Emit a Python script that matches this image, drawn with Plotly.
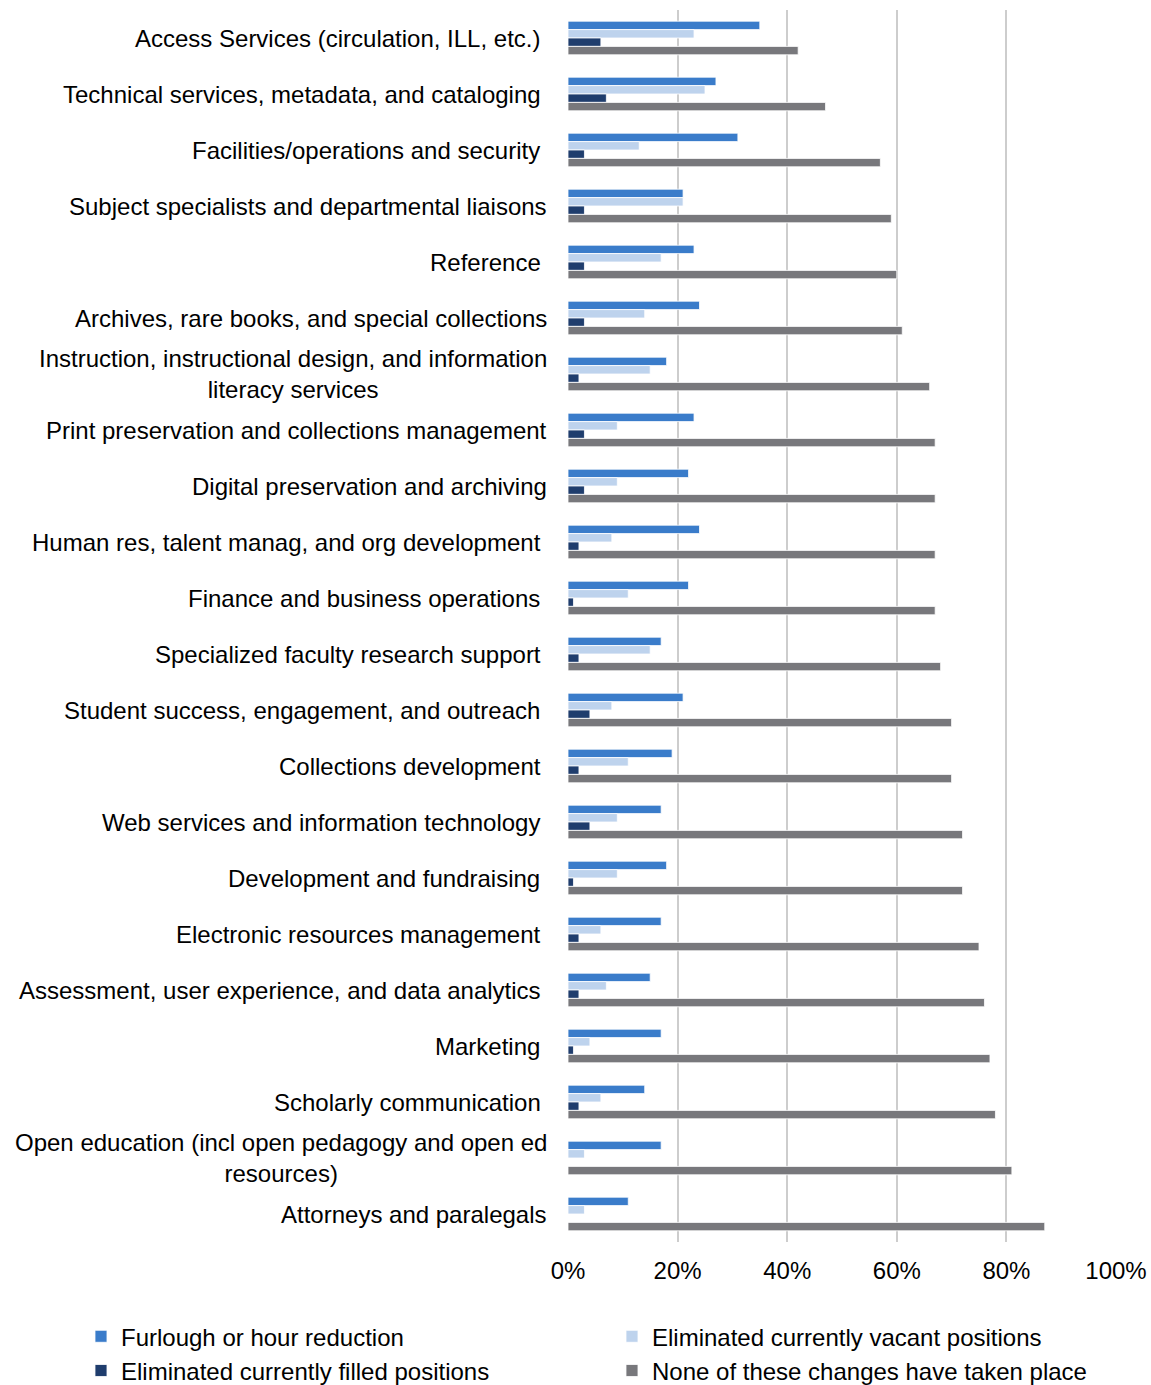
import plotly.graph_objects as go

# Library functional areas (top to bottom); a trailing space is kept as drawn
categories = [
    "Access Services (circulation, ILL, etc.) ",
    "Technical services, metadata, and cataloging ",
    "Facilities/operations and security ",
    "Subject specialists and departmental liaisons",
    "Reference ",
    "Archives, rare books, and special collections",
    "Instruction, instructional design, and information<br>literacy services",
    "Print preservation and collections management",
    "Digital preservation and archiving",
    "Human res, talent manag, and org development ",
    "Finance and business operations ",
    "Specialized faculty research support ",
    "Student success, engagement, and outreach ",
    "Collections development ",
    "Web services and information technology ",
    "Development and fundraising ",
    "Electronic resources management ",
    "Assessment, user experience, and data analytics ",
    "Marketing ",
    "Scholarly communication ",
    "Open education (incl open pedagogy and open ed<br>resources)",
    "Attorneys and paralegals",
]

# Share of respondents (%) per change type
furlough = [35, 27, 31, 21, 23, 24, 18, 23, 22, 24, 22, 17, 21, 19, 17, 18, 17, 15, 17, 14, 17, 11]
vacant = [23, 25, 13, 21, 17, 14, 15, 9, 9, 8, 11, 15, 8, 11, 9, 9, 6, 7, 4, 6, 3, 3]
filled = [6, 7, 3, 3, 3, 3, 2, 3, 3, 2, 1, 2, 4, 2, 4, 1, 2, 2, 1, 2, 0, 0]
none_changes = [42, 47, 57, 59, 60, 61, 66, 67, 67, 67, 67, 68, 70, 70, 72, 72, 75, 76, 77, 78, 81, 87]

series = [
    ("Furlough or hour reduction", furlough, "#3a7cca"),
    ("Eliminated currently vacant positions", vacant, "#bed3ed"),
    ("Eliminated currently filled positions", filled, "#1f3d6d"),
    ("None of these changes have taken place", none_changes, "#78787c"),
]

ticks = [0, 20, 40, 60, 80, 100]
tick_text = [f"{t}%" for t in ticks]

FONT = "Liberation Sans, Arial, sans-serif"
FS = 24

fig = go.Figure()
for name, vals, color in series:
    fig.add_trace(go.Bar(
        y=list(range(len(categories))),
        x=vals,
        name=name,
        orientation="h",
        marker=dict(color=color, line=dict(color="white", width=0.8)),
    ))

# Category labels, centred line by line and right-aligned against the axis
for i, label in enumerate(categories):
    text = label.rstrip(" ") + ("\u00a0" if label.endswith(" ") else "")
    fig.add_annotation(
        x=0, xref="paper", y=i, yref="y",
        text=text,
        showarrow=False, xanchor="right", yanchor="middle", align="center",
        xshift=-19, font=dict(family=FONT, size=FS, color="#000000"),
    )

fig.update_layout(
    width=1151, height=1385,
    margin=dict(l=568, r=35, t=10, b=143, autoexpand=False),
    paper_bgcolor="white", plot_bgcolor="white",
    barmode="group", bargap=0.4, bargroupgap=0,
    font=dict(family=FONT, size=FS, color="#000000"),
    xaxis=dict(
        range=[0, 100], tickvals=ticks, ticktext=tick_text,
        showgrid=True, gridcolor="#cdcdcd", gridwidth=1.5,
        zeroline=False, showline=False, ticks="",
        ticklabelstandoff=12,
    ),
    yaxis=dict(
        range=[len(categories) - 0.5, -0.5],
        showticklabels=False, showgrid=False, zeroline=False, ticks="",
    ),
    legend=dict(
        orientation="h", xref="paper", yref="paper",
        x=-0.8887, y=-0.0586, xanchor="left", yanchor="top",
        entrywidth=486, traceorder="normal",
        font=dict(family=FONT, size=FS, color="#000000"),
        itemwidth=30,
    ),
)

fig.write_html("out.html")
